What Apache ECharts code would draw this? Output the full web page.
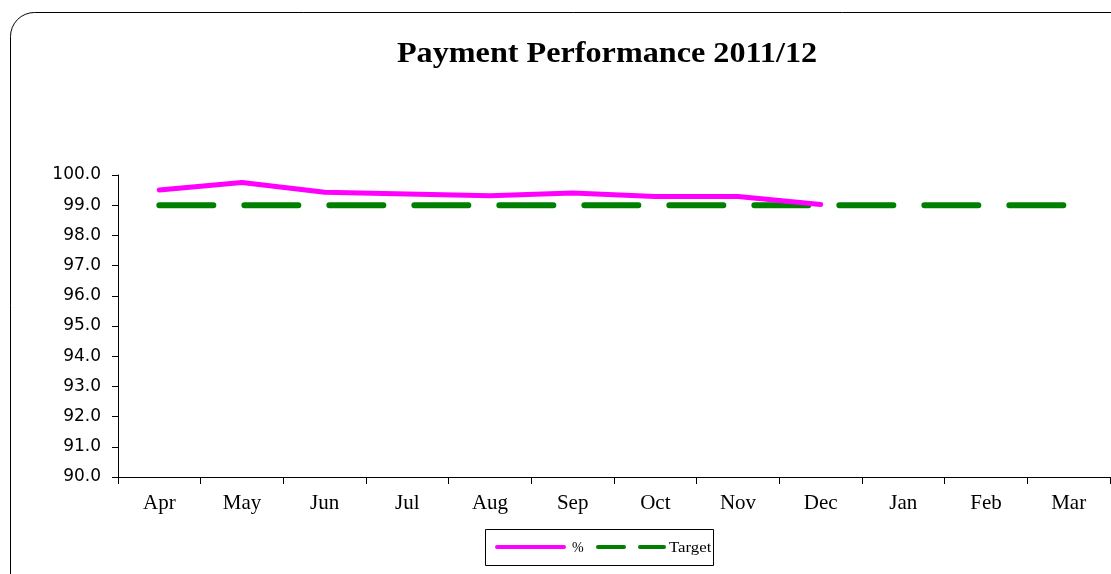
<!DOCTYPE html>
<html>
<head>
<meta charset="utf-8">
<script src="https://cdn.jsdelivr.net/npm/echarts@6/dist/echarts.min.js"></script>
<style>
  html, body { margin: 0; padding: 0; background: #fff; }
  #chart { width: 1111px; height: 574px; }
</style>
</head>
<body>
<div id="chart"></div>
<script>
// data
const months = ['Apr', 'May', 'Jun', 'Jul', 'Aug', 'Sep', 'Oct', 'Nov', 'Dec', 'Jan', 'Feb', 'Mar'];
const percent = [99.5, 99.75, 99.43, 99.37, 99.31, 99.4, 99.29, 99.29, 99.02, null, null, null];
const target = [99, 99, 99, 99, 99, 99, 99, 99, 99, 99, 99, 99];

const serif = '"Liberation Serif", "DejaVu Serif", serif';
const sans = '"DejaVu Sans", sans-serif';
const pink = '#ff00ff';
const green = '#008000';

const chart = echarts.init(document.getElementById('chart'));

chart.setOption({
  animation: false,
  graphic: [
    // rounded frame
    {
      type: 'rect',
      shape: { x: 10.5, y: 12.5, width: 1200, height: 700, r: 24 },
      style: { fill: 'none', stroke: '#000', lineWidth: 1 },
      z: -1
    },
    // title
    {
      type: 'text',
      x: 607, y: 55,
      scaleX: 1.11,
      style: {
        text: 'Payment Performance 2011/12',
        x: 0, y: 0,
        textAlign: 'center', textVerticalAlign: 'middle',
        font: 'bold 29px ' + serif,
        fill: '#000'
      }
    },
    // legend box
    {
      type: 'rect',
      shape: { x: 485.5, y: 529.5, width: 228, height: 36 },
      style: { fill: '#fff', stroke: '#000', lineWidth: 1 }
    },
    {
      type: 'line',
      shape: { x1: 497, y1: 547, x2: 564, y2: 547 },
      style: { stroke: pink, lineWidth: 4, lineCap: 'round' }
    },
    {
      type: 'text',
      x: 572, y: 548,
      style: { text: '%', x: 0, y: 0, textVerticalAlign: 'middle', font: '14px ' + serif, fill: '#000' }
    },
    {
      type: 'line',
      shape: { x1: 598, y1: 547, x2: 624, y2: 547 },
      style: { stroke: green, lineWidth: 4, lineCap: 'round' }
    },
    {
      type: 'line',
      shape: { x1: 640, y1: 547, x2: 664, y2: 547 },
      style: { stroke: green, lineWidth: 4, lineCap: 'round' }
    },
    {
      type: 'text',
      x: 669, y: 548,
      scaleX: 1.2,
      style: { text: 'Target', x: 0, y: 0, textVerticalAlign: 'middle', font: '14px ' + serif, fill: '#000' }
    }
  ],
  grid: { left: 118, right: 1, top: 175, bottom: 97, containLabel: false },
  xAxis: {
    type: 'category',
    data: months,
    boundaryGap: true,
    axisLine: { lineStyle: { color: '#000', width: 1 } },
    axisTick: { show: true, interval: 0, length: 7, lineStyle: { color: '#000' } },
    axisLabel: { interval: 0, color: '#000', fontFamily: serif, fontSize: 21, margin: 16 },
    splitLine: { show: false }
  },
  yAxis: {
    type: 'value',
    min: 90,
    max: 100,
    interval: 1,
    axisLine: { show: true, lineStyle: { color: '#000', width: 1 } },
    axisTick: { show: true, length: 6, lineStyle: { color: '#000' } },
    axisLabel: {
      color: '#000', fontFamily: sans, fontSize: 17, margin: 17,
      formatter: v => v.toFixed(1)
    },
    splitLine: { show: false }
  },
  series: [
    {
      name: '%',
      type: 'line',
      data: percent,
      symbol: 'none',
      lineStyle: { color: pink, width: 5, cap: 'round', join: 'round' },
      itemStyle: { color: pink },
      z: 3
    },
    {
      name: 'Target',
      type: 'line',
      data: target,
      symbol: 'none',
      lineStyle: { color: green, width: 6, type: [54, 31], cap: 'round' },
      itemStyle: { color: green },
      z: 2
    }
  ]
});
</script>
</body>
</html>
